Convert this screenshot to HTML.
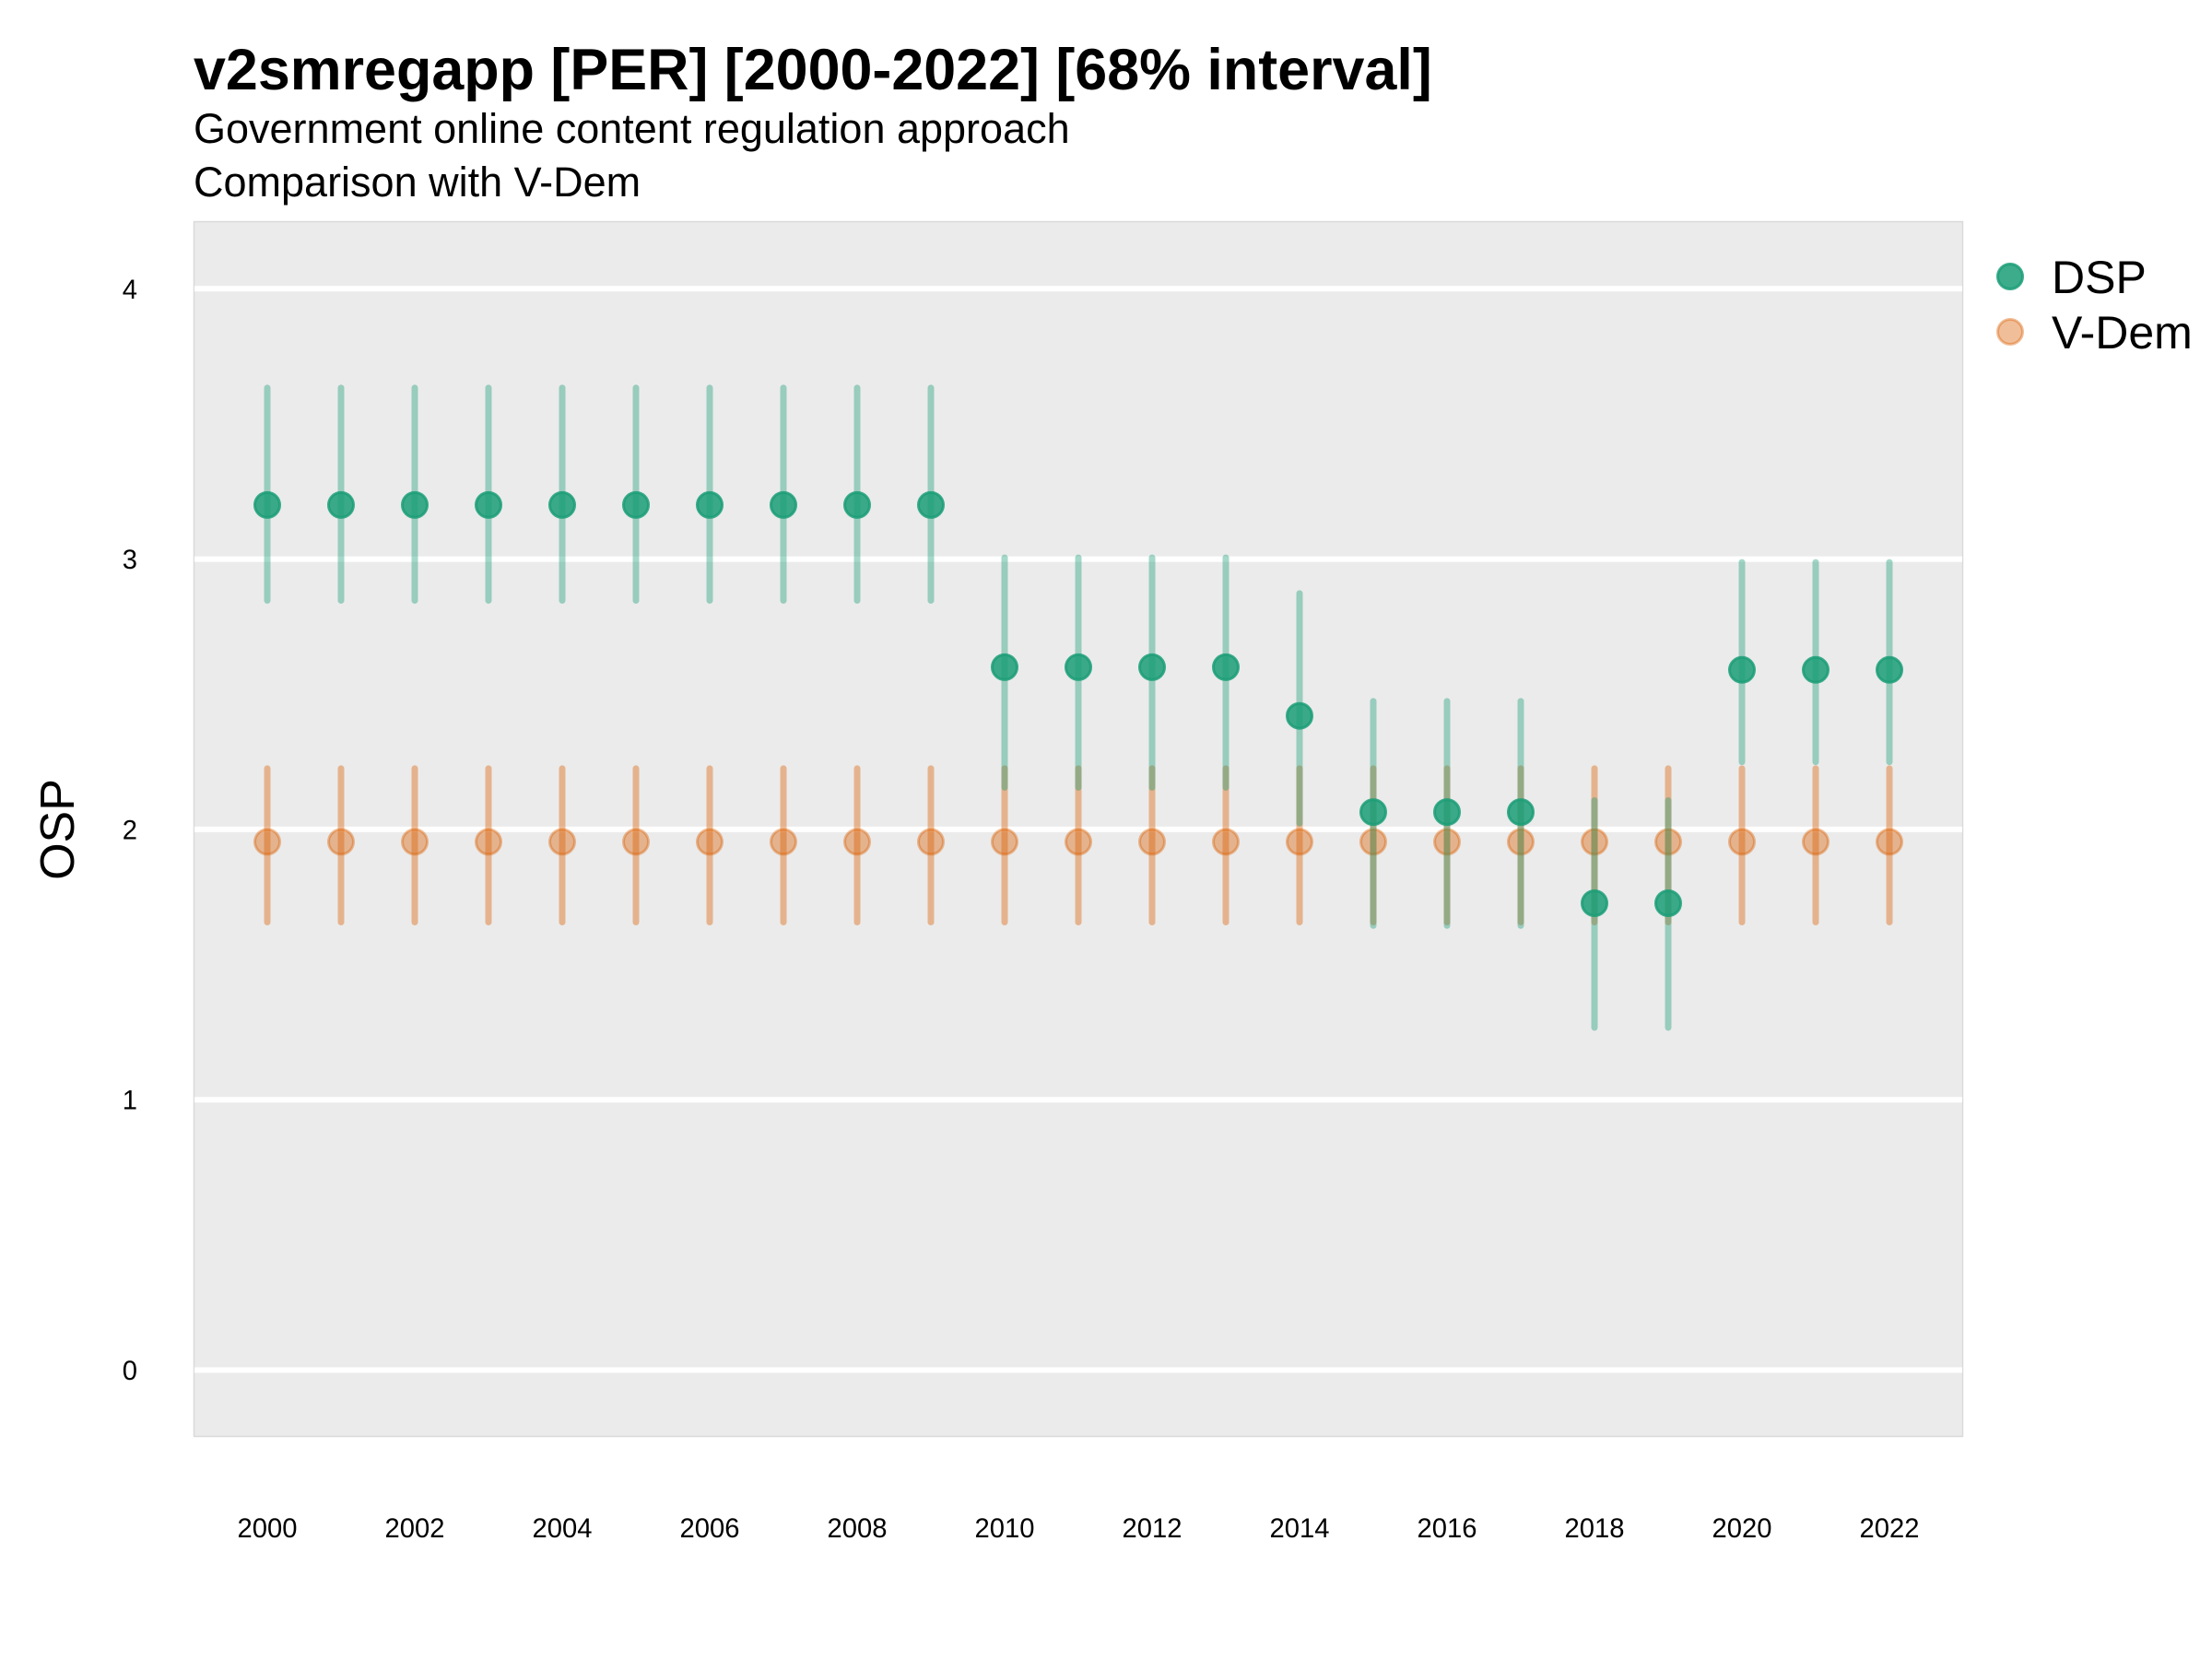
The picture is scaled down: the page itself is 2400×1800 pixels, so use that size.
<!DOCTYPE html>
<html>
<head>
<meta charset="utf-8">
<style>
  html, body { margin: 0; padding: 0; background: #ffffff; }
  svg { display: block; }
  text { font-family: "Liberation Sans", Arial, sans-serif; fill: #000; }
</style>
</head>
<body>
<svg width="2400" height="1800" viewBox="0 0 2400 1800" xmlns="http://www.w3.org/2000/svg">
  <rect x="0" y="0" width="2400" height="1800" fill="#ffffff"/>

  <!-- Titles -->
  <text x="210" y="97" font-size="62.8" font-weight="bold">v2smregapp [PER] [2000-2022] [68% interval]</text>
  <text x="210" y="155" font-size="45">Government online content regulation approach</text>
  <text x="210" y="213" font-size="45">Comparison with V-Dem</text>

  <!-- Panel -->
  <rect x="210.5" y="240.5" width="1919" height="1318" fill="#ebebeb" stroke="#dadada" stroke-width="1.5"/>

  <!-- Gridlines -->
  <g stroke="#ffffff" stroke-width="6">
    <line x1="211" y1="1486.5" x2="2129" y2="1486.5"/>
    <line x1="211" y1="1193.2" x2="2129" y2="1193.2"/>
    <line x1="211" y1="899.9" x2="2129" y2="899.9"/>
    <line x1="211" y1="606.6" x2="2129" y2="606.6"/>
    <line x1="211" y1="313.3" x2="2129" y2="313.3"/>
  </g>

  <!-- Y tick labels -->
  <g font-size="29.2" text-anchor="end">
    <text x="149" y="1497">0</text>
    <text x="149" y="1203.7">1</text>
    <text x="149" y="910.4">2</text>
    <text x="149" y="617.1">3</text>
    <text x="149" y="323.8">4</text>
  </g>

  <!-- Y axis title -->
  <text x="0" y="0" font-size="52" text-anchor="middle" transform="translate(80,900) rotate(-90)">OSP</text>

  <!-- X tick labels -->
  <g font-size="29.2" text-anchor="middle">
    <text x="290" y="1668">2000</text>
    <text x="450" y="1668">2002</text>
    <text x="610" y="1668">2004</text>
    <text x="770" y="1668">2006</text>
    <text x="930" y="1668">2008</text>
    <text x="1090" y="1668">2010</text>
    <text x="1250" y="1668">2012</text>
    <text x="1410" y="1668">2014</text>
    <text x="1570" y="1668">2016</text>
    <text x="1730" y="1668">2018</text>
    <text x="1890" y="1668">2020</text>
    <text x="2050" y="1668">2022</text>
  </g>

  <!-- V-Dem error bars -->
  <g stroke="#d95f02" stroke-opacity="0.4" stroke-width="7" stroke-linecap="round">
    <line x1="290" y1="833.9" x2="290" y2="1000.5"/>
    <line x1="370" y1="833.9" x2="370" y2="1000.5"/>
    <line x1="450" y1="833.9" x2="450" y2="1000.5"/>
    <line x1="530" y1="833.9" x2="530" y2="1000.5"/>
    <line x1="610" y1="833.9" x2="610" y2="1000.5"/>
    <line x1="690" y1="833.9" x2="690" y2="1000.5"/>
    <line x1="770" y1="833.9" x2="770" y2="1000.5"/>
    <line x1="850" y1="833.9" x2="850" y2="1000.5"/>
    <line x1="930" y1="833.9" x2="930" y2="1000.5"/>
    <line x1="1010" y1="833.9" x2="1010" y2="1000.5"/>
    <line x1="1090" y1="833.9" x2="1090" y2="1000.5"/>
    <line x1="1170" y1="833.9" x2="1170" y2="1000.5"/>
    <line x1="1250" y1="833.9" x2="1250" y2="1000.5"/>
    <line x1="1330" y1="833.9" x2="1330" y2="1000.5"/>
    <line x1="1410" y1="833.9" x2="1410" y2="1000.5"/>
    <line x1="1490" y1="833.9" x2="1490" y2="1000.5"/>
    <line x1="1570" y1="833.9" x2="1570" y2="1000.5"/>
    <line x1="1650" y1="833.9" x2="1650" y2="1000.5"/>
    <line x1="1730" y1="833.9" x2="1730" y2="1000.5"/>
    <line x1="1810" y1="833.9" x2="1810" y2="1000.5"/>
    <line x1="1890" y1="833.9" x2="1890" y2="1000.5"/>
    <line x1="1970" y1="833.9" x2="1970" y2="1000.5"/>
    <line x1="2050" y1="833.9" x2="2050" y2="1000.5"/>
  </g>

  <!-- V-Dem points -->
  <g fill="#d95f02" fill-opacity="0.4" stroke="#d95f02" stroke-opacity="0.4" stroke-width="3">
    <circle cx="290" cy="913.4" r="13.5"/>
    <circle cx="370" cy="913.4" r="13.5"/>
    <circle cx="450" cy="913.4" r="13.5"/>
    <circle cx="530" cy="913.4" r="13.5"/>
    <circle cx="610" cy="913.4" r="13.5"/>
    <circle cx="690" cy="913.4" r="13.5"/>
    <circle cx="770" cy="913.4" r="13.5"/>
    <circle cx="850" cy="913.4" r="13.5"/>
    <circle cx="930" cy="913.4" r="13.5"/>
    <circle cx="1010" cy="913.4" r="13.5"/>
    <circle cx="1090" cy="913.4" r="13.5"/>
    <circle cx="1170" cy="913.4" r="13.5"/>
    <circle cx="1250" cy="913.4" r="13.5"/>
    <circle cx="1330" cy="913.4" r="13.5"/>
    <circle cx="1410" cy="913.4" r="13.5"/>
    <circle cx="1490" cy="913.4" r="13.5"/>
    <circle cx="1570" cy="913.4" r="13.5"/>
    <circle cx="1650" cy="913.4" r="13.5"/>
    <circle cx="1730" cy="913.4" r="13.5"/>
    <circle cx="1810" cy="913.4" r="13.5"/>
    <circle cx="1890" cy="913.4" r="13.5"/>
    <circle cx="1970" cy="913.4" r="13.5"/>
    <circle cx="2050" cy="913.4" r="13.5"/>
  </g>

  <!-- DSP error bars -->
  <g stroke="#1b9e77" stroke-opacity="0.4" stroke-width="7" stroke-linecap="round">
    <line x1="290" y1="420.9" x2="290" y2="651.5"/>
    <line x1="370" y1="420.9" x2="370" y2="651.5"/>
    <line x1="450" y1="420.9" x2="450" y2="651.5"/>
    <line x1="530" y1="420.9" x2="530" y2="651.5"/>
    <line x1="610" y1="420.9" x2="610" y2="651.5"/>
    <line x1="690" y1="420.9" x2="690" y2="651.5"/>
    <line x1="770" y1="420.9" x2="770" y2="651.5"/>
    <line x1="850" y1="420.9" x2="850" y2="651.5"/>
    <line x1="930" y1="420.9" x2="930" y2="651.5"/>
    <line x1="1010" y1="420.9" x2="1010" y2="651.5"/>
    <line x1="1090" y1="605.1" x2="1090" y2="854.4"/>
    <line x1="1170" y1="605.1" x2="1170" y2="854.4"/>
    <line x1="1250" y1="605.1" x2="1250" y2="854.4"/>
    <line x1="1330" y1="605.1" x2="1330" y2="854.4"/>
    <line x1="1410" y1="643.9" x2="1410" y2="893.2"/>
    <line x1="1490" y1="760.9" x2="1490" y2="1004.3"/>
    <line x1="1570" y1="760.9" x2="1570" y2="1004.3"/>
    <line x1="1650" y1="760.9" x2="1650" y2="1004.3"/>
    <line x1="1730" y1="868.5" x2="1730" y2="1114.9"/>
    <line x1="1810" y1="868.5" x2="1810" y2="1114.9"/>
    <line x1="1890" y1="610.1" x2="1890" y2="826.6"/>
    <line x1="1970" y1="610.1" x2="1970" y2="826.6"/>
    <line x1="2050" y1="610.1" x2="2050" y2="826.6"/>
  </g>

  <!-- DSP points -->
  <g fill="#1b9e77" fill-opacity="0.85" stroke="#1b9e77" stroke-opacity="0.85" stroke-width="3">
    <circle cx="290" cy="547.9" r="13.5"/>
    <circle cx="370" cy="547.9" r="13.5"/>
    <circle cx="450" cy="547.9" r="13.5"/>
    <circle cx="530" cy="547.9" r="13.5"/>
    <circle cx="610" cy="547.9" r="13.5"/>
    <circle cx="690" cy="547.9" r="13.5"/>
    <circle cx="770" cy="547.9" r="13.5"/>
    <circle cx="850" cy="547.9" r="13.5"/>
    <circle cx="930" cy="547.9" r="13.5"/>
    <circle cx="1010" cy="547.9" r="13.5"/>
    <circle cx="1090" cy="723.9" r="13.5"/>
    <circle cx="1170" cy="723.9" r="13.5"/>
    <circle cx="1250" cy="723.9" r="13.5"/>
    <circle cx="1330" cy="723.9" r="13.5"/>
    <circle cx="1410" cy="776.7" r="13.5"/>
    <circle cx="1490" cy="881.1" r="13.5"/>
    <circle cx="1570" cy="881.1" r="13.5"/>
    <circle cx="1650" cy="881.1" r="13.5"/>
    <circle cx="1730" cy="980.0" r="13.5"/>
    <circle cx="1810" cy="980.0" r="13.5"/>
    <circle cx="1890" cy="726.8" r="13.5"/>
    <circle cx="1970" cy="726.8" r="13.5"/>
    <circle cx="2050" cy="726.8" r="13.5"/>
  </g>

  <!-- Legend -->
  <circle cx="2181" cy="300" r="13.5" fill="#1b9e77" fill-opacity="0.85" stroke="#1b9e77" stroke-opacity="0.85" stroke-width="3"/>
  <circle cx="2181" cy="360" r="13.5" fill="#d95f02" fill-opacity="0.4" stroke="#d95f02" stroke-opacity="0.4" stroke-width="3"/>
  <text x="2226" y="318" font-size="50">DSP</text>
  <text x="2226" y="378" font-size="50">V-Dem</text>
</svg>
</body>
</html>
